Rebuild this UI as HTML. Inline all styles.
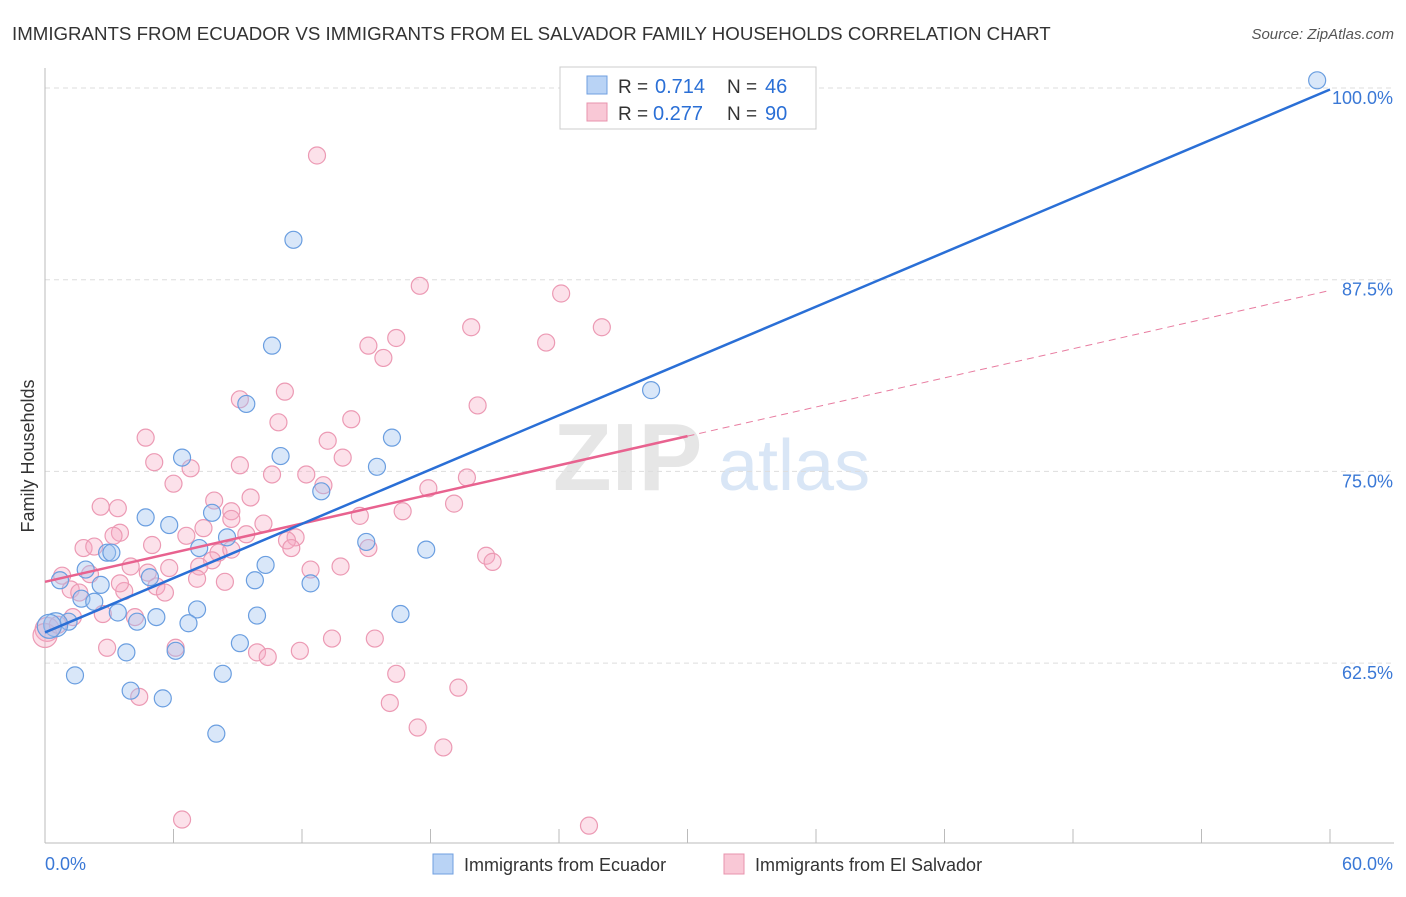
<!DOCTYPE html>
<html><head><meta charset="utf-8"><style>
body{margin:0;background:#fff;font-family:"Liberation Sans",sans-serif;}
svg text{font-family:"Liberation Sans",sans-serif;}
</style></head><body>
<svg width="1406" height="892" xmlns="http://www.w3.org/2000/svg" id="chart">
<text x="12" y="40" font-size="18.7" fill="#333">IMMIGRANTS FROM ECUADOR VS IMMIGRANTS FROM EL SALVADOR FAMILY HOUSEHOLDS CORRELATION CHART</text>
<text x="1394" y="39" font-size="15" fill="#555" font-style="italic" text-anchor="end">Source: ZipAtlas.com</text>
<text x="553" y="490" font-size="96" fill="#e6e6e6" font-family="Liberation Serif" font-weight="bold">ZIP</text>
<text x="718" y="490" font-size="72" fill="#d9e6f6">atlas</text>
<g id="grid"></g>
<g id="axes"></g>
<g id="pts"></g>
<g id="trend"></g>
<text transform="translate(34,456) rotate(-90)" font-size="18" fill="#333" text-anchor="middle">Family Households</text>
<g>
<rect x="560" y="67" width="256" height="62" fill="#fff" stroke="#ccc"/>
<rect x="587" y="76" width="20" height="18" fill="#b9d3f5" stroke="#6f9fe0"/>
<rect x="587" y="103" width="20" height="18" fill="#f9c8d6" stroke="#e893ad"/>
<text x="618" y="93" font-size="19" fill="#333">R =</text>
<text x="655" y="93" font-size="20" fill="#2a6fd6">0.714</text>
<text x="727" y="93" font-size="19" fill="#333">N =</text>
<text x="765" y="93" font-size="20" fill="#2a6fd6">46</text>
<text x="618" y="120" font-size="19" fill="#333">R =</text>
<text x="653" y="120" font-size="20" fill="#2a6fd6">0.277</text>
<text x="727" y="120" font-size="19" fill="#333">N =</text>
<text x="765" y="120" font-size="20" fill="#2a6fd6">90</text>
</g>
<g>
<rect x="433" y="854" width="20" height="20" fill="#b9d3f5" stroke="#6f9fe0"/>
<text x="464" y="871" font-size="18" fill="#333">Immigrants from Ecuador</text>
<rect x="724" y="854" width="20" height="20" fill="#f9c8d6" stroke="#e893ad"/>
<text x="755" y="871" font-size="18" fill="#333">Immigrants from El Salvador</text>
</g>
</svg>
<script>
const yTicks=[100,87.5,75,62.5];
const yTickLabels=["100.0%","87.5%","75.0%","62.5%"];
const ecuadorX=[59.4,11.6,10.6,28.3,9.4,16.2,6.4,11.0,15.5,12.9,4.7,7.8,5.8,8.5,7.2,15.0,17.8,2.9,3.1,10.3,1.9,4.9,0.7,2.6,9.8,12.4,1.7,2.3,7.1,3.4,9.9,5.2,4.3,16.6,6.7,1.1,0.5,0.2,9.1,3.8,6.1,1.4,8.3,4.0,5.5,8.0];
const ecuadorY=[100.5,90.1,83.2,80.3,79.4,77.2,75.9,76.0,75.3,73.7,72.0,72.3,71.5,70.7,70.0,70.4,69.9,69.7,69.7,68.9,68.6,68.1,67.9,67.6,67.9,67.7,66.7,66.5,66.0,65.8,65.6,65.5,65.2,65.7,65.1,65.2,65.0,64.9,63.8,63.2,63.3,61.7,61.8,60.7,60.2,57.9];
const salvadorX=[12.7,17.5,24.1,26.0,19.9,23.4,16.4,15.1,15.8,11.2,9.1,20.2,14.3,10.9,4.7,13.2,13.9,5.1,9.1,6.8,10.6,12.2,6.0,19.7,13.0,17.9,7.9,9.6,2.6,3.4,19.1,16.7,8.7,14.7,10.2,7.4,3.5,3.2,11.7,11.3,6.6,5.0,9.4,1.8,2.3,15.1,8.1,11.5,8.7,7.8,7.2,20.6,20.9,4.0,13.8,12.4,5.8,0.8,2.1,7.1,8.4,5.2,5.6,1.2,1.6,3.7,2.7,4.2,1.3,0.1,0.0,6.1,2.9,13.4,15.4,9.9,11.9,10.4,16.4,19.3,4.4,16.1,17.4,18.6,6.4,25.4,0.6,3.5,8.7,4.8];
const salvadorY=[95.6,87.1,86.6,84.4,84.4,83.4,83.7,83.2,82.4,80.2,79.7,79.3,78.4,78.2,77.2,77.0,75.9,75.6,75.4,75.2,74.8,74.8,74.2,74.6,74.1,73.9,73.1,73.3,72.7,72.6,72.9,72.4,72.4,72.1,71.6,71.3,71.0,70.8,70.7,70.5,70.8,70.2,70.9,70.0,70.1,70.0,69.7,70.0,69.9,69.2,68.8,69.5,69.1,68.8,68.8,68.6,68.7,68.2,68.3,68.0,67.8,67.5,67.1,67.3,67.1,67.2,65.7,65.5,65.5,64.7,64.3,63.5,63.5,64.1,64.1,63.2,63.3,62.9,61.8,60.9,60.3,59.9,58.3,57.0,52.3,51.9,65.0,67.7,71.9,68.4];
const ecuadorTrend=[64.5,99.9];
const salvadorTrend=[67.8,86.8];
const salvadorSolidEnd=30;

const NS="http://www.w3.org/2000/svg";
const X=v=>45+v/60*1285;
const Y=v=>88+(100-v)*15.336;
function mk(tag,at,parent){const e=document.createElementNS(NS,tag);for(const k in at)e.setAttribute(k,at[k]);document.getElementById(parent).appendChild(e);return e;}
yTicks.forEach((t,i)=>{
  const l=mk('line',{x1:45,x2:1394,y1:Y(t),y2:Y(t),stroke:'#ddd','stroke-dasharray':'5,4'},'grid');
  
  
  const tx=mk('text',{x:1393,y:Y(t)+16,'font-size':18,fill:'#3a78d6','text-anchor':'end'},'axes');
  tx.textContent=yTickLabels[i];
  
  
});
mk('line',{x1:45,x2:45,y1:68,y2:843,stroke:'#bbb'},'axes');
mk('line',{x1:45,x2:1394,y1:843,y2:843,stroke:'#bbb'},'axes');
for(let i=0;i<=10;i++){const x=45+i*128.5;mk('line',{x1:x,x2:x,y1:829,y2:843,stroke:'#bbb'},'axes');}
const xl0=mk('text',{x:45,y:870,'font-size':18,fill:'#3a78d6'},'axes');xl0.textContent='0.0%';


const xl1=mk('text',{x:1393,y:870,'font-size':18,fill:'#3a78d6','text-anchor':'end'},'axes');xl1.textContent='60.0%';


salvadorX.forEach((v,i)=>{
  const c=mk('circle',{cx:X(v),cy:Y(salvadorY[i]),r:(i==70||i==69)?12:8.5,fill:'rgba(245,170,195,0.35)',stroke:'#ec9ab4','stroke-width':1.2},'pts');
  
  
});
ecuadorX.forEach((v,i)=>{
  const c=mk('circle',{cx:X(v),cy:Y(ecuadorY[i]),r:(i==37||i==36)?12:8.5,fill:'rgba(160,195,240,0.4)',stroke:'#6a9ee0','stroke-width':1.2},'pts');
  
  
});
const sy=x=>salvadorTrend[0]+(salvadorTrend[1]-salvadorTrend[0])*x/60;
let t1=mk('line',{x1:X(salvadorSolidEnd),y1:Y(sy(salvadorSolidEnd)),x2:X(60),y2:Y(sy(60)),stroke:'#e87ca0','stroke-width':1,'stroke-dasharray':'7,5'},'trend');


let t2=mk('line',{x1:X(0),y1:Y(sy(0)),x2:X(salvadorSolidEnd),y2:Y(sy(salvadorSolidEnd)),stroke:'#e8628f','stroke-width':2.5},'trend');


let t3=mk('line',{x1:X(0),y1:Y(ecuadorTrend[0]),x2:X(60),y2:Y(ecuadorTrend[1]),stroke:'#2a6fd6','stroke-width':2.5},'trend');


</script>
</body></html>
